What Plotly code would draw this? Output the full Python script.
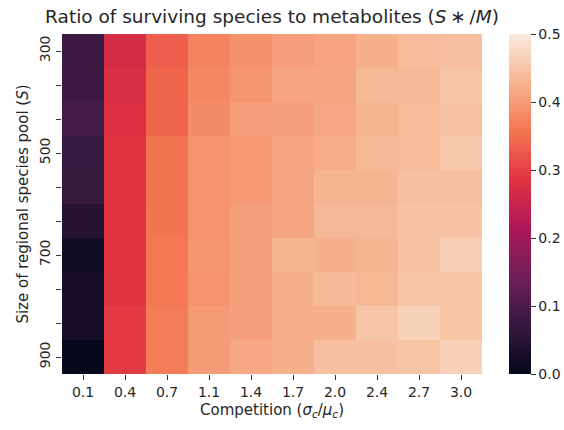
import plotly.graph_objects as go

competition = ["0.1", "0.4", "0.7", "1.1", "1.4", "1.7", "2.0", "2.4", "2.7", "3.0"]
pool_labels = ["300", "", "", "500", "", "", "700", "", "", "900"]

ratio = [
    [0.080, 0.270, 0.333, 0.373, 0.389, 0.403, 0.410, 0.425, 0.440, 0.443],
    [0.080, 0.275, 0.340, 0.378, 0.393, 0.413, 0.413, 0.435, 0.435, 0.450],
    [0.090, 0.278, 0.340, 0.382, 0.403, 0.405, 0.415, 0.430, 0.438, 0.447],
    [0.073, 0.285, 0.355, 0.390, 0.398, 0.413, 0.420, 0.435, 0.438, 0.455],
    [0.070, 0.285, 0.355, 0.390, 0.398, 0.413, 0.430, 0.430, 0.445, 0.445],
    [0.050, 0.286, 0.355, 0.390, 0.405, 0.413, 0.435, 0.435, 0.448, 0.448],
    [0.020, 0.287, 0.360, 0.394, 0.405, 0.430, 0.425, 0.430, 0.448, 0.463],
    [0.025, 0.287, 0.360, 0.390, 0.405, 0.425, 0.437, 0.432, 0.450, 0.450],
    [0.025, 0.293, 0.365, 0.400, 0.405, 0.425, 0.425, 0.452, 0.467, 0.450],
    [0.004, 0.293, 0.365, 0.400, 0.415, 0.425, 0.445, 0.445, 0.450, 0.465],
]

rocket = [
    [0.0, "#03051a"],
    [1 / 7, "#35193e"],
    [2 / 7, "#701f57"],
    [3 / 7, "#ad1759"],
    [4 / 7, "#e13342"],
    [5 / 7, "#f37651"],
    [6 / 7, "#f6b48f"],
    [1.0, "#faebdd"],
]

font = "DejaVu Sans"
txt = "#262626"
nx = len(competition)
ny = len(pool_labels)

W, H = 564, 430
ML, MT, MB, MR = 62, 34, 56, 0
pw = W - ML - MR
x_end = (482 - ML) / pw
cb_x = (509 - ML) / pw

fig = go.Figure(
    go.Heatmap(
        z=ratio,
        x=list(range(nx)),
        y=list(range(ny)),
        zmin=0.0,
        zmax=0.5,
        colorscale=rocket,
        hoverinfo="skip",
        colorbar=dict(
            thickness=22,
            thicknessmode="pixels",
            len=1.0,
            lenmode="fraction",
            x=cb_x,
            xanchor="left",
            y=0.5,
            yanchor="middle",
            xpad=0,
            ypad=0,
            outlinewidth=0,
            tickvals=[0.0, 0.1, 0.2, 0.3, 0.4, 0.5],
            ticktext=["0.0", "0.1", "0.2", "0.3", "0.4", "0.5"],
            ticks="outside",
            ticklen=5,
            tickcolor="#333",
            tickfont=dict(family=font, size=14, color=txt),
        ),
    )
)

fig.update_layout(
    width=W,
    height=H,
    margin=dict(l=ML, r=MR, t=MT, b=MB, autoexpand=False),
    paper_bgcolor="white",
    plot_bgcolor="white",
    font=dict(family=font, color=txt),
    title=dict(
        text="Ratio of surviving species to metabolites (<i>S</i>\u2009∗\u2009/<i>M</i>)",
        x=272 / W,
        xanchor="center",
        y=1 - 17 / H,
        yanchor="middle",
        font=dict(family=font, size=18.5, color=txt),
    ),
)

fig.update_xaxes(
    domain=[0, x_end],
    tickmode="array",
    tickvals=list(range(nx)),
    ticktext=competition,
    range=[-0.5, nx - 0.5],
    ticks="outside",
    ticklen=5,
    tickcolor="#333",
    showgrid=False,
    zeroline=False,
    showline=False,
    tickfont=dict(family=font, size=14, color=txt),
    title=dict(
        text="Competition (<i>σ<sub>c</sub></i>/<i>μ<sub>c</sub></i>)",
        font=dict(family=font, size=15, color=txt),
        standoff=5,
    ),
)

fig.update_yaxes(
    domain=[0, 1],
    tickmode="array",
    tickvals=list(range(ny)),
    ticktext=pool_labels,
    range=[ny - 0.5, -0.5],
    ticks="outside",
    ticklen=5,
    tickcolor="#333",
    tickangle=-90,
    showgrid=False,
    zeroline=False,
    showline=False,
    tickfont=dict(family=font, size=14, color=txt),
    title=dict(
        text="Size of regional species pool (<i>S</i>)",
        font=dict(family=font, size=15, color=txt),
        standoff=5,
    ),
)

fig.write_html(
    "out.html",
    config={"displayModeBar": False},
    post_script="document.body.style.margin='0';document.body.style.overflow='hidden';",
)
